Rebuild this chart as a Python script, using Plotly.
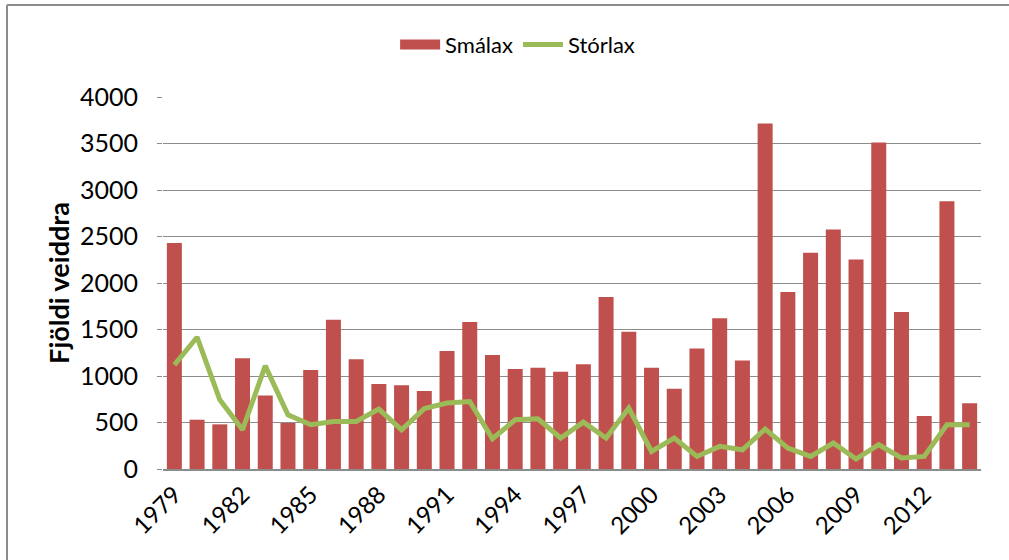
import plotly.graph_objects as go

years = list(range(1979, 2015))
smalax = [2430, 530, 480, 1190, 790, 495, 1065, 1605, 1180, 915, 900, 840,
          1270, 1580, 1225, 1075, 1090, 1045, 1127, 1850, 1475, 1090, 862, 1295,
          1621, 1166, 3714, 1903, 2325, 2576, 2254, 3510, 1689, 570, 2880, 708]
storlax = [1120, 1417, 744, 422, 1109, 583, 476, 511, 511, 644, 422, 650,
           709, 726, 325, 529, 540, 333, 504, 333, 655, 189, 333, 135,
           243, 207, 429, 225, 135, 279, 107, 261, 118, 135, 476, 476]
tick_years = list(range(1979, 2013, 3))

FONT = "Lato"
RED = "#C0504D"
GREEN = "#9BBB59"

fig = go.Figure()
fig.add_trace(go.Bar(x=years, y=smalax, name="Smálax", showlegend=False,
                     marker=dict(color=RED, line=dict(width=0))))
# legend-only entry to mimic the wide Excel swatch
fig.add_trace(go.Scatter(x=[None], y=[None], name="Smálax", mode="lines",
                         line=dict(color=RED, width=15)))
fig.add_trace(go.Scatter(x=years, y=storlax, name="Stórlax", mode="lines",
                         line=dict(color=GREEN, width=5)))

fig.update_layout(
    width=1009, height=560,
    margin=dict(l=163, r=28, t=97, b=91),
    paper_bgcolor="white", plot_bgcolor="white",
    font=dict(family=FONT, color="black", size=22),
    bargap=0.34,
    showlegend=True,
    legend=dict(orientation="h", xref="container", yref="container",
                x=0.513, xanchor="center", y=0.92, yanchor="middle",
                font=dict(size=22, family=FONT), itemwidth=40,
                traceorder="normal"),
    xaxis=dict(range=[1978.5, 2014.5], tickmode="array", tickvals=tick_years,
               ticktext=[str(y) for y in tick_years], tickangle=-45,
               showgrid=False, showline=True, linecolor="#8C8C8C", linewidth=2,
               ticks="", tickfont=dict(size=24, family=FONT)),
    yaxis=dict(range=[0, 4000], dtick=500, showgrid=True, gridcolor="#8C8C8C",
               gridwidth=1.3, zeroline=False, showline=False,
               ticks="outside", ticklen=5, tickcolor="#8C8C8C",
               ticklabelstandoff=14,
               tickfont=dict(size=25, family=FONT),
               title=dict(text="<b>Fjöldi veiddra</b>", font=dict(size=27, family=FONT),
                          standoff=2)),
)
# outer chart border (only top and left edges visible in the frame)
bx0 = (7 - 163) / 818
by1 = (469 - 5) / 372
fig.add_shape(type="line", xref="paper", yref="paper",
              x0=bx0, x1=(1100 - 163) / 818, y0=by1, y1=by1,
              line=dict(color="#8C8C8C", width=2))
fig.add_shape(type="line", xref="paper", yref="paper",
              x0=bx0, x1=bx0, y0=(469 - 700) / 372, y1=by1,
              line=dict(color="#8C8C8C", width=2))

fig.write_html("out.html", config={"displayModeBar": False},
               post_script=("document.documentElement.style.overflow='hidden';"
                            "document.body.style.margin='0';"
                            "document.body.style.overflow='hidden';"))
